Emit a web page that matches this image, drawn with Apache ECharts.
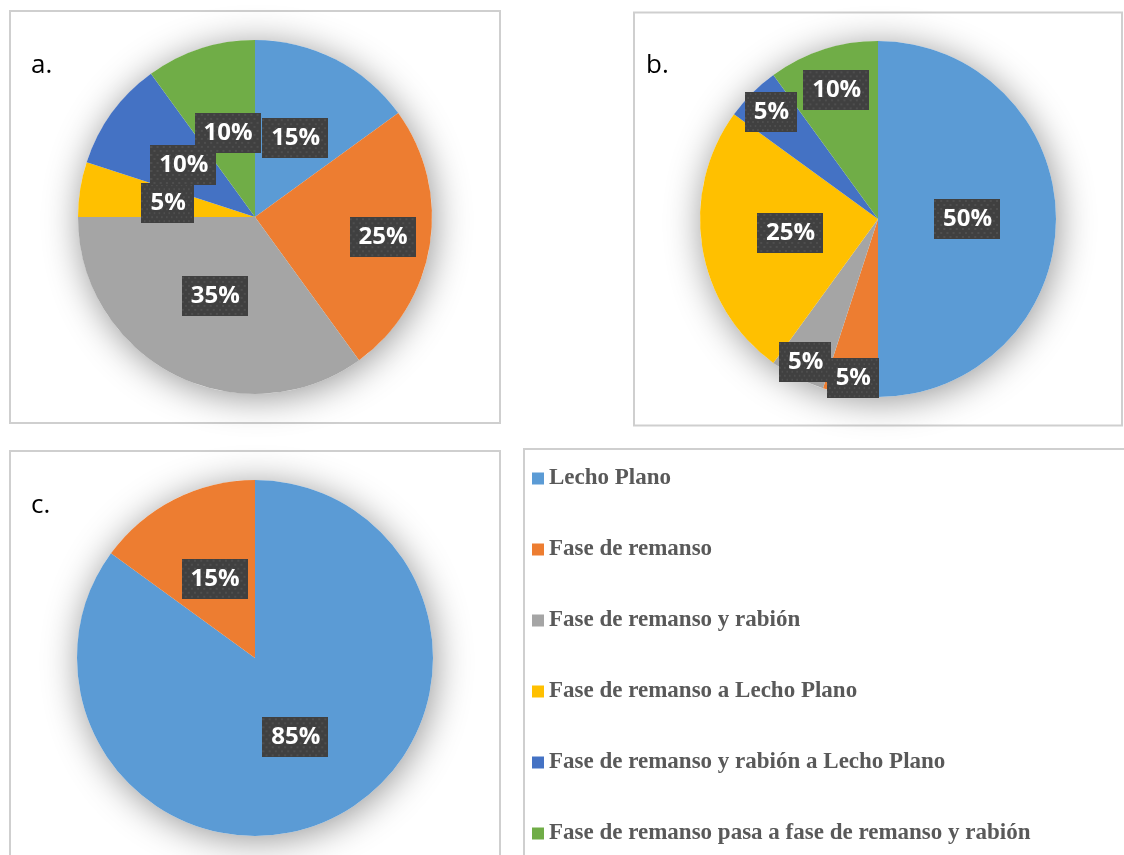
<!DOCTYPE html>
<html>
<head>
<meta charset="utf-8">
<title>Fases del lecho</title>
<script src="https://cdn.jsdelivr.net/npm/echarts@6/dist/echarts.min.js"></script>
<style>
  html, body { margin: 0; padding: 0; background: #ffffff; }
  #chart { width: 1124px; height: 855px; }
</style>
</head>
<body>
<div id="chart"></div>
<script>
// Categories shared by the three pies and the legend
const categories = [
  'Lecho Plano',
  'Fase de remanso',
  'Fase de remanso y rabión',
  'Fase de remanso a Lecho Plano',
  'Fase de remanso y rabión a Lecho Plano',
  'Fase de remanso pasa a fase de remanso y rabión'
];

// Percentages for each panel
const valuesA = [15, 25, 35, 5, 10, 10];
const valuesB = [50, 5, 5, 25, 5, 10];
const valuesC = [85, 15];

const panelLetters = ['a.', 'b.', 'c.'];

const palette = ['#5B9BD5', '#ED7D31', '#A5A5A5', '#FFC000', '#4472C4', '#70AD47'];

// Radial position of each label as a fraction of the radius
const labelRadiusA = [0.5, 0.73, 0.5, 0.5, 0.5, 0.5];
const labelRadiusB = [0.5, 0.905, 0.9, 0.5, 0.85, 0.76];
const labelRadiusC = [0.5, 0.5];

const panels = [
  { values: valuesA, center: [255, 217], radius: 177, labelR: labelRadiusA },
  { values: valuesB, center: [878, 219], radius: 178, labelR: labelRadiusB },
  { values: valuesC, center: [255, 658], radius: 178, labelR: labelRadiusC }
];

// Dark dotted texture for the value boxes
function makeTexture(w, h) {
  const c = document.createElement('canvas');
  c.width = w; c.height = h;
  const g = c.getContext('2d');
  g.fillStyle = '#404040';
  g.fillRect(0, 0, w, h);
  g.fillStyle = 'rgba(255,255,255,0.10)';
  for (let y = 2, row = 0; y < h; y += 4, row++) {
    for (let x = (row % 2) ? 4 : 1; x < w; x += 6) {
      g.beginPath();
      g.arc(x, y, 1, 0, Math.PI * 2);
      g.fill();
    }
  }
  return c;
}
const texture = makeTexture(64, 40);

function toData(values) {
  return values.map((v, i) => ({ name: categories[i], value: v, itemStyle: { color: palette[i] } }));
}

const series = [];
panels.forEach((p, k) => {
  // soft halo under the pie
  series.push({
    type: 'pie',
    silent: true,
    z: 1,
    center: p.center,
    radius: p.radius,
    label: { show: false },
    labelLine: { show: false },
    legendHoverLink: false,
    data: [{ value: 1, name: '__halo' + k, itemStyle: {
      color: '#ffffff', shadowBlur: 36, shadowColor: 'rgba(0,0,0,0.42)', shadowOffsetX: 2, shadowOffsetY: 4
    } }],
    tooltip: { show: false }
  });
  series.push({
    type: 'pie',
    z: 2,
    center: p.center,
    radius: p.radius,
    startAngle: 90,
    clockwise: true,
    animation: false,
    itemStyle: { borderWidth: 0 },
    emphasis: { disabled: true },
    label: {
      show: true,
      position: 'inside',
      formatter: '{c}%',
      color: '#ffffff',
      fontFamily: 'Open Sans',
      fontWeight: 'bold',
      fontSize: 24,
      lineHeight: 28,
      backgroundColor: { image: texture },
      padding: [6, 8, 6, 9],
      shadowColor: 'rgba(0,0,0,0.45)',
      shadowBlur: 6,
      shadowOffsetX: 3,
      shadowOffsetY: 3
    },
    labelLine: { show: false },
    labelLayout: function (params) {
      const r = params.labelRect;
      const lx = r.x + r.width / 2 - p.center[0];
      const ly = r.y + r.height / 2 - p.center[1];
      const rho = Math.sqrt(lx * lx + ly * ly) || 1;
      const f = p.labelR[params.dataIndex] * p.radius / rho - 1;
      return { dx: lx * f, dy: ly * f };
    },
    data: toData(p.values)
  });
});

const frame = { stroke: '#cfcfcf', lineWidth: 2, fill: 'none' };

const option = {
  animation: false,
  backgroundColor: '#ffffff',
  legend: {
    orient: 'vertical',
    left: 527,
    top: 462,
    data: categories,
    icon: 'rect',
    itemWidth: 12,
    itemHeight: 12,
    itemGap: 48,
    selectedMode: false,
    textStyle: {
      fontFamily: 'Liberation Serif',
      fontWeight: 'bold',
      fontSize: 23,
      color: '#595959'
    }
  },
  graphic: [
    { type: 'rect', shape: { x: 10, y: 11, width: 490, height: 412 }, style: frame, silent: true },
    { type: 'rect', shape: { x: 634, y: 12.5, width: 488, height: 413 }, style: frame, silent: true },
    { type: 'rect', shape: { x: 10, y: 451, width: 490, height: 430 }, style: frame, silent: true },
    { type: 'rect', shape: { x: 524, y: 449, width: 640, height: 430 }, style: frame, silent: true },
    { type: 'text', x: 31, y: 53, style: { text: panelLetters[0], font: '26px "Open Sans"', fill: '#000000', verticalAlign: 'alphabetic' } },
    { type: 'text', x: 646, y: 53, style: { text: panelLetters[1], font: '26px "Open Sans"', fill: '#000000', verticalAlign: 'alphabetic' } },
    { type: 'text', x: 31, y: 493, style: { text: panelLetters[2], font: '26px "Open Sans"', fill: '#000000', verticalAlign: 'alphabetic' } }
  ],
  series: series
};

const chart = echarts.init(document.getElementById('chart'), null, { renderer: 'canvas' });
chart.setOption(option);
</script>
</body>
</html>
